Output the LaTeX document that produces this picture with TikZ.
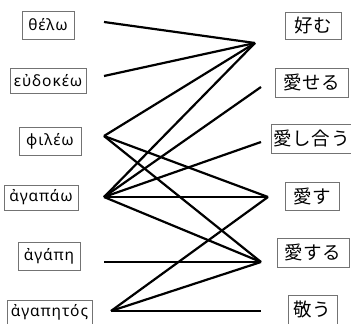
\documentclass[tikz,border=0pt]{standalone}
\usepackage{fontspec}
\setmainfont{Noto Sans}[LetterSpace=6]
\newfontfamily\jpfont{Noto Sans CJK JP}[LetterSpace=4]
\tikzset{
  box/.style={draw=black!55, line width=0.9pt, inner sep=0pt, fill=white},
  grk/.style={box, font=\fontsize{15.5}{17}\selectfont},
  jpn/.style={box, font=\jpfont\fontsize{18.5}{20}\selectfont},
  link/.style={line width=2.2pt}
}
\begin{document}
\begin{tikzpicture}[x=1pt,y=-1pt]
\useasboundingbox (0,0) rectangle (351,324);
% left boxes
\node[grk, minimum width=52pt, minimum height=28pt] (thelo) at (48,25) {θέλω};
\node[grk, minimum width=76pt, minimum height=25pt] (eudokeo) at (48,81) {εὐδοκέω};
\node[grk, minimum width=62pt, minimum height=28pt] (phileo) at (50,141) {φιλέω};
\node[grk, minimum width=74pt, minimum height=25pt] (agapao) at (41,197.5) {ἀγαπάω};
\node[grk, minimum width=62pt, minimum height=28pt] (agape) at (49,256) {ἀγάπη};
\node[grk, minimum width=85pt, minimum height=25pt] (agapetos) at (49.5,312.5) {ἀγαπητός};
% right boxes
\node[jpn, minimum width=56pt, minimum height=27pt] (konomu) at (313,25.5) {好む};
\node[jpn, minimum width=73pt, minimum height=29pt] (aiseru) at (311.5,82.5) {愛せる};
\node[jpn, minimum width=81pt, minimum height=29pt] (aishiau) at (311.5,138.5) {愛し合う};
\node[jpn, minimum width=54pt, minimum height=28pt] (aisu) at (312,196) {愛す};
\node[jpn, minimum width=72pt, minimum height=29pt] (aisuru) at (313,252.5) {愛する};
\node[jpn, minimum width=49pt, minimum height=29pt] (uyamau) at (312.5,309.5) {敬う};
% connector ends
\coordinate (Lthelo) at (104,22);
\coordinate (Leudokeo) at (104,76);
\coordinate (Lphileo) at (104,136);
\coordinate (Lagapao) at (104,197);
\coordinate (Lagape) at (104,262);
\coordinate (Lagapetos) at (111,311);
\coordinate (Rkonomu) at (255,43);
\coordinate (Raiseru) at (261,87);
\coordinate (Raishiau) at (261,142);
\coordinate (Raisu) at (268,197);
\coordinate (Raisuru) at (261,262);
\coordinate (Ruyamau) at (261,311);
% connectors
\draw[link] (Lthelo) -- (Rkonomu);
\draw[link] (Leudokeo) -- (Rkonomu);
\draw[link] (Lphileo) -- (Rkonomu);
\draw[link] (Lphileo) -- (Raisu);
\draw[link] (Lphileo) -- (Raisuru);
\draw[link] (Lagapao) -- (Rkonomu);
\draw[link] (Lagapao) -- (Raiseru);
\draw[link] (Lagapao) -- (Raishiau);
\draw[link] (Lagapao) -- (Raisu);
\draw[link] (Lagapao) -- (Raisuru);
\draw[link] (Lagape) -- (Raisuru);
\draw[link] (Lagapetos) -- (Raisu);
\draw[link] (Lagapetos) -- (Raisuru);
\draw[link] (Lagapetos) -- (Ruyamau);
\end{tikzpicture}
\end{document}
